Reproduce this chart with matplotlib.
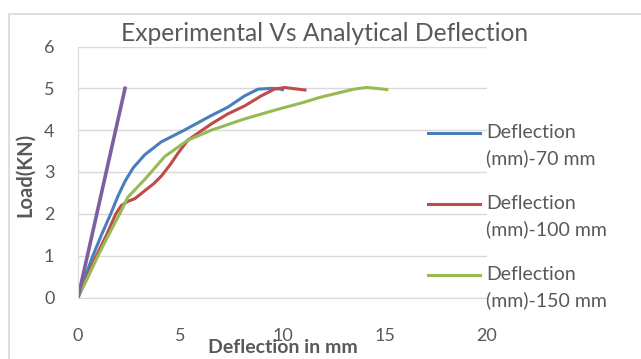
import matplotlib.pyplot as plt
from matplotlib.patches import Rectangle
from matplotlib.lines import Line2D

# Load vs deflection readings
defl_70 = [0, 0.35, 0.73, 1.15, 1.6, 1.96, 2.3, 2.7, 3.26, 4.07, 5.2, 6.52, 7.33, 8.15, 8.8, 9.45,
           9.8, 10.0]
load_70 = [0, 0.5, 1.0, 1.5, 2.0, 2.43, 2.78, 3.1, 3.41, 3.72, 4.0, 4.35, 4.55, 4.82, 4.98, 5.0,
           4.99, 4.97]

defl_100 = [0, 0.45, 0.9, 1.4, 1.85, 2.12, 2.44, 2.77, 3.26, 3.7, 4.07, 4.5, 4.89, 5.37, 6.52, 7.33,
            8.15, 8.96, 9.6, 10.1, 10.6, 11.1]
load_100 = [0, 0.5, 1.0, 1.5, 2.0, 2.2, 2.3, 2.36, 2.55, 2.72, 2.9, 3.17, 3.45, 3.76, 4.15, 4.39,
            4.58, 4.82, 4.98, 5.02, 4.99, 4.96]

defl_150 = [0, 0.5, 0.98, 1.5, 2.04, 2.44, 3.26, 4.24, 5.37, 6.52, 8.15, 9.78, 11.0, 11.8, 12.8,
            13.5, 14.1, 14.6, 15.1]
load_150 = [0, 0.5, 1.0, 1.5, 2.0, 2.4, 2.82, 3.37, 3.76, 4.0, 4.27, 4.5, 4.66, 4.78, 4.9,
            4.98, 5.02, 5.0, 4.97]

defl_analytical = [0, 2.3]
load_analytical = [0, 5]

labels = ["Deflection\n(mm)-70 mm", "Deflection\n(mm)-100 mm", "Deflection\n(mm)-150 mm"]
colors = ["#4A7EBB", "#BE4B48", "#98B954"]

plt.rcParams["font.family"] = ["Lato", "DejaVu Sans"]
grey = "#595959"
W, H = 641, 359

fig = plt.figure(figsize=(6.41, 3.59), dpi=100)
fig.patches.append(Rectangle((9 / W, -0.1), 1.2, (H - 14) / H + 0.1,
                             transform=fig.transFigure, fill=False,
                             edgecolor="#D9D9D9", linewidth=1.2))
ax = fig.add_axes([78 / W, (H - 297.5) / H, 409 / W, 251 / H])

ax.plot(defl_70, load_70, color=colors[0], linewidth=2.2)
ax.plot(defl_100, load_100, color=colors[1], linewidth=2.2)
ax.plot(defl_150, load_150, color=colors[2], linewidth=2.2)
ax.plot(defl_analytical, load_analytical, color="#7D60A0", linewidth=2.6)

ax.set_xlim(0, 20)
ax.set_ylim(0, 6)
ax.set_xticks([0, 5, 10, 15, 20])
ax.set_yticks([0, 1, 2, 3, 4, 5, 6])
ax.grid(axis="y", color="#D9D9D9", linewidth=1)
ax.set_axisbelow(True)
for s in ["top", "right"]:
    ax.spines[s].set_visible(False)
for s in ["left", "bottom"]:
    ax.spines[s].set_color("#D9D9D9")
ax.tick_params(length=0, labelsize=13, labelcolor=grey)
ax.tick_params(axis="y", pad=17)
ax.tick_params(axis="x", pad=22)

ax.set_title("Experimental Vs Analytical Deflection", fontsize=17.7, color=grey,
             x=(325 - 78) / 409, pad=4)
ax.set_xlabel("Deflection in mm", fontsize=14, fontweight="bold", color=grey)
ax.set_ylabel("Load(KN)", fontsize=14.5, fontweight="bold", color=grey)
ax.xaxis.label.set_va("center")
ax.yaxis.label.set_va("center")
ax.xaxis.set_label_coords(0.501, -0.2)
ax.yaxis.set_label_coords(-0.1296, 0.49)

# legend drawn by hand: line sample on the first text line
for i, (lab, col) in enumerate(zip(labels, colors)):
    yl = 132.7 + 71.2 * i
    fig.add_artist(Line2D([428 / W, 480 / W], [(H - yl) / H] * 2, color=col,
                          linewidth=2.2, transform=fig.transFigure))
    fig.text(486 / W, (H - yl + 9) / H, lab, fontsize=14, color=grey,
             va="top", ha="left", linespacing=1.55)

plt.savefig("out.png", dpi=100)
